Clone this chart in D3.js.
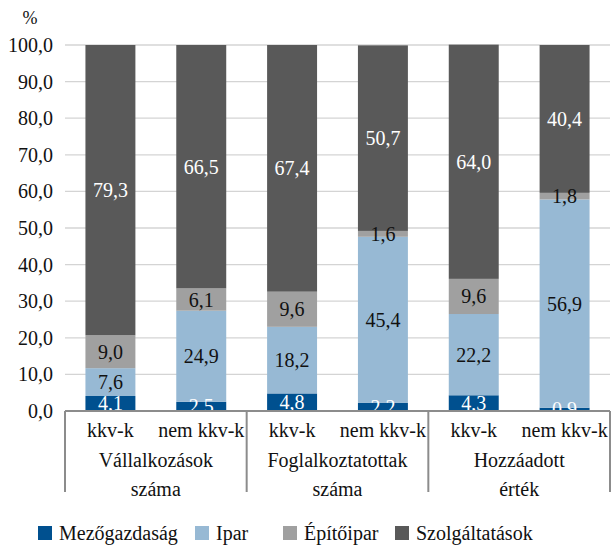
<!DOCTYPE html>
<html>
<head>
<meta charset="utf-8">
<script src="https://cdn.jsdelivr.net/npm/d3@7"></script>
</head>
<body style="margin:0">
<script>
var width = 611
var height = 551

// data
var groups = [['Vállalkozások', 'száma'], ['Foglalkoztatottak', 'száma'], ['Hozzáadott', 'érték']]
var subCats = ['kkv-k', 'nem kkv-k']
var sectors = ['Mezőgazdaság', 'Ipar', 'Építőipar', 'Szolgáltatások']
var mezogazdasag = [4.1, 2.5, 4.8, 2.2, 4.3, 0.9]
var ipar = [7.6, 24.9, 18.2, 45.4, 22.2, 56.9]
var epitoipar = [9.0, 6.1, 9.6, 1.6, 9.6, 1.8]
var szolgaltatasok = [79.3, 66.5, 67.4, 50.7, 64.0, 40.4]
var yTicks = [0, 10, 20, 30, 40, 50, 60, 70, 80, 90, 100]

var colors = ['#00508f', '#97b9d4', '#a0a0a0', '#595959']
var labelColors = ['#fff', '#111', '#111', '#fff']

var margin = { left: 65, right: 1 }
var fs = 20
var off = 7 // vertical centring offset for text, px
var fmt = d => d.toFixed(1).replace('.', ',')

var bars = []
groups.forEach((g, gi) => subCats.forEach((s, si) => bars.push({ key: gi + '-' + si, sub: s })))
var series = [mezogazdasag, ipar, epitoipar, szolgaltatasok]
var rows = bars.map((b, i) => {
    var r = { key: b.key }
    sectors.forEach((s, k) => r[s] = series[k][i])
    return r
})

var stack = d3.stack().keys(sectors)(rows)

var x = d3.scaleBand()
    .domain(bars.map(b => b.key))
    .range([margin.left, width - margin.right])
    .paddingInner(0.45)
    .paddingOuter(0.225)

var y = d3.scaleLinear()
    .domain([0, 100])
    .range([411, 45])

var svg = d3.select('body').append('svg')
    .attr('width', width)
    .attr('height', height)

function txt(sel, size) {
    return sel.attr('font-family', 'Liberation Serif')
        .style('font-family', 'Liberation Serif')
        .attr('font-size', size)
}

// gridlines
svg.selectAll('line.grid')
    .data(yTicks.filter(t => t > 0))
    .join('line')
    .attr('class', 'grid')
    .attr('x1', margin.left).attr('x2', width - margin.right)
    .attr('y1', d => y(d)).attr('y2', d => y(d))
    .attr('stroke', '#d4d4d4').attr('stroke-width', 1.3)

// y tick labels
svg.selectAll('text.ytick')
    .data(yTicks)
    .join('text')
    .attr('class', 'ytick')
    .attr('x', 53)
    .attr('y', d => y(d) + off)
    .attr('text-anchor', 'end')
    .attr('fill', '#111')
    .call(txt, fs)
    .text(fmt)

svg.append('text')
    .attr('x', 30).attr('y', 24)
    .attr('text-anchor', 'middle')
    .attr('fill', '#111')
    .call(txt, 18)
    .text('%')

// bars
stack.forEach((s, i) => {
    svg.selectAll('rect.s' + i)
        .data(s)
        .join('rect')
        .attr('class', 's' + i)
        .attr('x', d => x(d.data.key))
        .attr('width', x.bandwidth())
        .attr('y', d => y(d[1]))
        .attr('height', d => y(d[0]) - y(d[1]))
        .attr('fill', colors[i])
})

// value labels
stack.forEach((s, i) => {
    svg.selectAll('text.v' + i)
        .data(s)
        .join('text')
        .attr('class', 'v' + i)
        .attr('x', d => x(d.data.key) + x.bandwidth() / 2)
        .attr('y', d => y((d[0] + d[1]) / 2) + off)
        .attr('text-anchor', 'middle')
        .attr('fill', labelColors[i])
        .call(txt, fs)
        .text(d => fmt(d[1] - d[0]))
})

// category axis
var axisY = y(0)
var span = width - margin.right - margin.left
var groupEdges = [margin.left, margin.left + span / 3, margin.left + 2 * span / 3, width - margin.right]

svg.append('line')
    .attr('x1', margin.left).attr('x2', width - margin.right)
    .attr('y1', axisY).attr('y2', axisY)
    .attr('stroke', '#8c8c8c').attr('stroke-width', 2)

svg.selectAll('line.sep')
    .data(groupEdges)
    .join('line')
    .attr('class', 'sep')
    .attr('x1', d => d).attr('x2', d => d)
    .attr('y1', axisY).attr('y2', 492)
    .attr('stroke', '#8c8c8c').attr('stroke-width', 2)

svg.selectAll('text.sub')
    .data(bars)
    .join('text')
    .attr('class', 'sub')
    .attr('x', d => x(d.key) + x.bandwidth() / 2)
    .attr('y', 437)
    .attr('text-anchor', 'middle')
    .attr('fill', '#111')
    .call(txt, fs)
    .text(d => d.sub)

groups.forEach((g, gi) => {
    svg.selectAll('text.g' + gi)
        .data(g)
        .join('text')
        .attr('class', 'g' + gi)
        .attr('x', (groupEdges[gi] + groupEdges[gi + 1]) / 2)
        .attr('y', (d, i) => 467 + i * 29)
        .attr('text-anchor', 'middle')
        .attr('fill', '#111')
        .call(txt, fs)
        .text(d => d)
})

// legend
var legendX = [38, 195, 283, 395]
svg.selectAll('rect.leg')
    .data(sectors)
    .join('rect')
    .attr('class', 'leg')
    .attr('x', (d, i) => legendX[i]).attr('y', 526)
    .attr('width', 14).attr('height', 14)
    .attr('fill', (d, i) => colors[i])

svg.selectAll('text.leg')
    .data(sectors)
    .join('text')
    .attr('class', 'leg')
    .attr('x', (d, i) => legendX[i] + 21)
    .attr('y', 533 + off)
    .attr('fill', '#111')
    .call(txt, fs)
    .text(d => d)
</script>
</body>
</html>
